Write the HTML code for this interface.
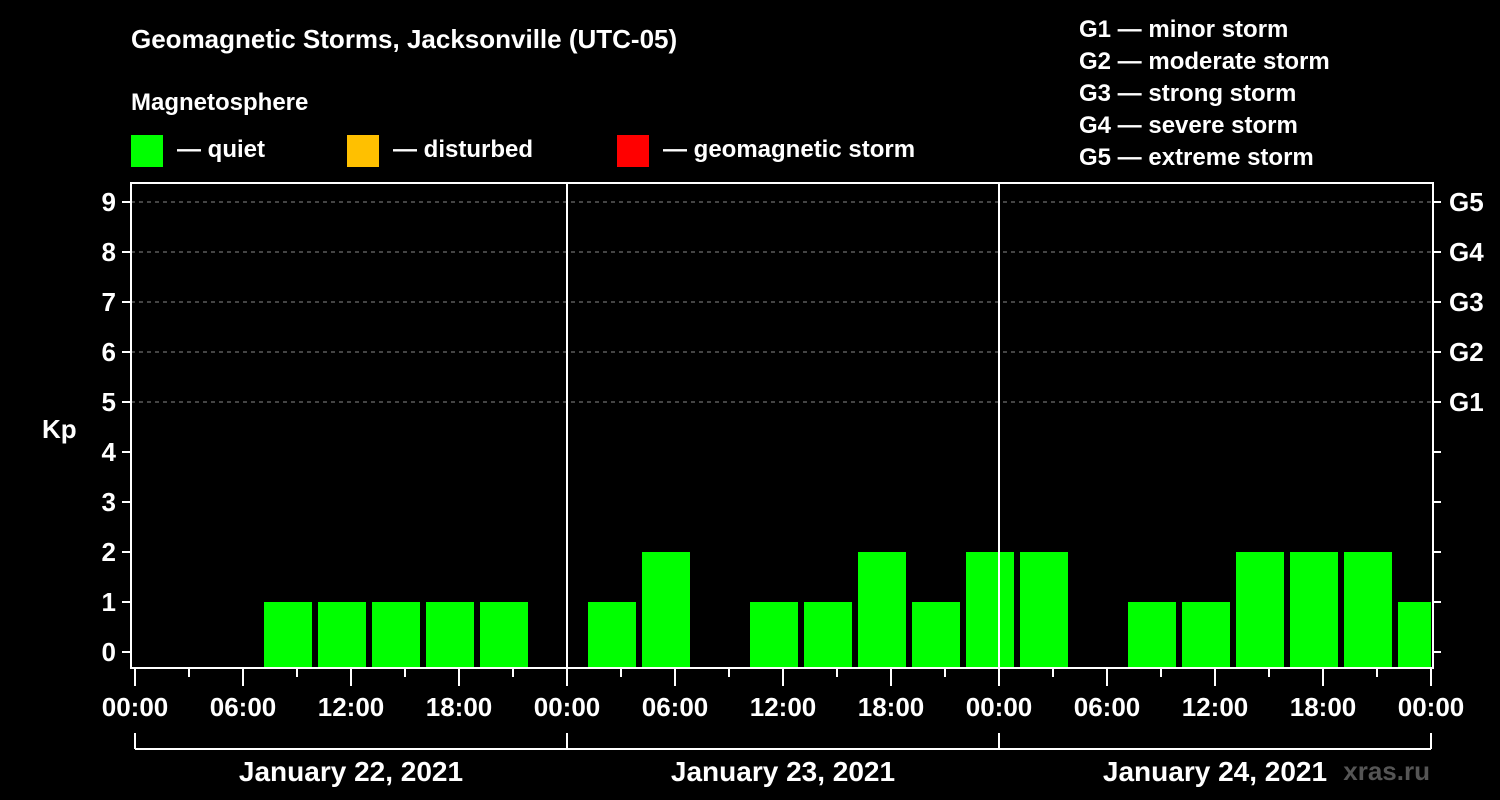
<!DOCTYPE html>
<html><head><meta charset="utf-8"><style>
html,body{margin:0;padding:0;background:#000;}
svg{display:block;font-family:"Liberation Sans",Arial,sans-serif;font-weight:bold;}
</style></head><body>
<svg id="chart" width="1500" height="800" viewBox="0 0 1500 800">
<rect x="0" y="0" width="1500" height="800" fill="#000"/>
<text x="131" y="48" fill="#fff" font-size="26">Geomagnetic Storms, Jacksonville (UTC-05)</text>
<text x="131" y="110" fill="#fff" font-size="24">Magnetosphere</text>
<g><rect x="131" y="135" width="32" height="32" fill="#00ff00"/><text x="177" y="157" fill="#fff" font-size="24">— quiet</text></g>
<g><rect x="347" y="135" width="32" height="32" fill="#ffc000"/><text x="393" y="157" fill="#fff" font-size="24">— disturbed</text></g>
<g><rect x="617" y="135" width="32" height="32" fill="#ff0000"/><text x="663" y="157" fill="#fff" font-size="24">— geomagnetic storm</text></g>
<g fill="#fff" font-size="24">
<text x="1079" y="37">G1 — minor storm</text>
<text x="1079" y="69">G2 — moderate storm</text>
<text x="1079" y="101">G3 — strong storm</text>
<text x="1079" y="133">G4 — severe storm</text>
<text x="1079" y="165">G5 — extreme storm</text>
</g>
<text x="42" y="438" fill="#fff" font-size="26">Kp</text>
<text x="1430" y="780" fill="#555" font-size="26" text-anchor="end">xras.ru</text>
<g id="plot"></g>
</svg>
<script>
const slotStartHours=[-2,1,4,7,10,13,16,19,22,25,28,31,34,37,40,43,46,49,52,55,58,61,64,67,70];
const kpValues=[0,0,0,1,1,1,1,1,0,1,2,0,1,1,2,1,2,2,0,1,1,2,2,2,1];
const kpTicks=[0,1,2,3,4,5,6,7,8,9];
const gLevels=[5,6,7,8,9];
const gLabels=['G1','G2','G3','G4','G5'];
const timeLabels=['00:00','06:00','12:00','18:00','00:00','06:00','12:00','18:00','00:00','06:00','12:00','18:00','00:00'];
const dayLabels=['January 22, 2021','January 23, 2021','January 24, 2021'];

const NS='http://www.w3.org/2000/svg';
const g=document.getElementById('plot');
const X0=135,PX_H=18,L=131,R=1433,T=183,B=668;
const xs=h=>X0+h*PX_H;
const ys=v=>652-v*50;
function mk(tag,attrs,parent){const e=document.createElementNS(NS,tag);for(const k in attrs)e.setAttribute(k,attrs[k]);(parent||g).appendChild(e);return e;}

// grid
gLevels.forEach(v=>{
 const l=mk('line',{x1:L,x2:R,y1:ys(v),y2:ys(v),stroke:'#888','stroke-dasharray':'4,4','stroke-width':1});
 
 
});
// bars
slotStartHours.forEach((h,i)=>{
 const v=kpValues[i];
 if(v<=0)return;
 let x1=Math.max(xs(h)+3,L),x2=Math.min(xs(h)+51,xs(72));
 const c=v>=5?'#ff0000':(v>=4?'#ffc000':'#00ff00');
 const r=mk('rect',{x:x1,y:ys(v),width:x2-x1,height:B-ys(v),fill:c});
 
 
});
// day separators
[24,48].forEach(h=>{
 const l=mk('line',{x1:xs(h),x2:xs(h),y1:T,y2:B,stroke:'#fff','stroke-width':2});
 
 
});
// frame
const f=mk('rect',{x:L,y:T,width:R-L,height:B-T,fill:'none',stroke:'#fff','stroke-width':2});


// y ticks
kpTicks.forEach(v=>{
 mk('line',{x1:122,x2:L,y1:ys(v),y2:ys(v),stroke:'#fff','stroke-width':2});
 mk('line',{x1:R,x2:1441,y1:ys(v),y2:ys(v),stroke:'#fff','stroke-width':2});
 const t=mk('text',{x:116,y:ys(v)+9,fill:'#fff','font-size':26,'text-anchor':'end'});
 t.textContent=v;
 
 
});
gLevels.forEach((v,i)=>{
 const t=mk('text',{x:1449,y:ys(v)+9,fill:'#fff','font-size':26});
 t.textContent=gLabels[i];
 
 
});
// x ticks
for(let h=0;h<=72;h+=3){
 const major=h%6===0;
 mk('line',{x1:xs(h),x2:xs(h),y1:B,y2:major?686:677,stroke:'#fff','stroke-width':2});
}
timeLabels.forEach((s,i)=>{
 const t=mk('text',{x:xs(i*6),y:716,fill:'#fff','font-size':26,'text-anchor':'middle'});
 t.textContent=s;
 
 
});
// day brackets
mk('line',{x1:xs(0),x2:xs(72),y1:749,y2:749,stroke:'#fff','stroke-width':2});
[0,24,48,72].forEach(h=>mk('line',{x1:xs(h),x2:xs(h),y1:733,y2:749,stroke:'#fff','stroke-width':2}));
dayLabels.forEach((s,i)=>{
 const t=mk('text',{x:xs(i*24+12),y:781,fill:'#fff','font-size':28,'text-anchor':'middle'});
 t.textContent=s;
 
 
});
</script>
</body></html>
